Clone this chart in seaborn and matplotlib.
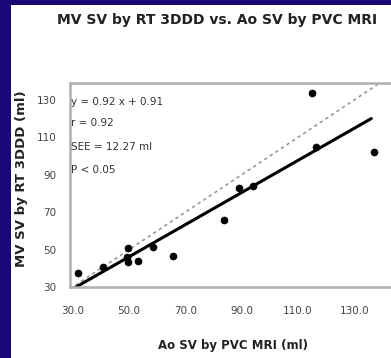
import matplotlib
matplotlib.use("Agg")
import matplotlib.pyplot as plt
from matplotlib.patches import Rectangle
import seaborn as sns
import pandas as pd

# Data
ao_sv = [31.8, 40.7, 49.6, 49.3, 49.6, 53.0, 58.6, 65.7, 83.6, 89.0, 94.0, 116.4, 115.0, 137.0]
mv_sv = [37.5, 40.7, 50.9, 46.0, 43.4, 44.0, 51.4, 46.6, 66.0, 83.0, 84.0, 105.0, 133.7, 102.0]
fit_x = [30.0, 136.0]
fit_y = [29.0, 120.0]
ident = [29.0, 145.0]
x_ticks = [30, 50, 70, 90, 110, 130]
x_tick_labels = ["30.0", "50.0", "70.0", "90.0", "110.0", "130.0"]
y_ticks = [30, 50, 70, 90, 110, 130]
y_tick_labels = ["30", "50", "70", "90", "110", "130"]
stats_lines = ["y = 0.92 x + 0.91", "r = 0.92", "SEE = 12.27 ml", "P < 0.05"]

title = "MV SV by RT 3DDD vs. Ao SV by PVC MRI"
xlabel = "Ao SV by PVC MRI (ml)"
ylabel = "MV SV by RT 3DDD (ml)"

sns.set_style("white")
plt.rcParams["font.family"] = ["DejaVu Sans"]

fig = plt.figure(figsize=(3.91, 3.58), dpi=100)
fig.patch.set_facecolor("white")
navy = "#1a0674"
fig.patches.append(Rectangle((0, 0), 11 / 391, 1, transform=fig.transFigure,
                             facecolor=navy, edgecolor="none", zorder=-1))
fig.patches.append(Rectangle((0, 1 - 5 / 358), 1, 5 / 358, transform=fig.transFigure,
                             facecolor=navy, edgecolor="none", zorder=-1))

ax = fig.add_axes([70 / 391, 1 - 287 / 358, 1 - 70 / 391, (287 - 83) / 358])

df = pd.DataFrame({"x": ao_sv, "y": mv_sv})
sns.lineplot(x=ident, y=ident, ax=ax, color="#999999", linestyle=(0, (2, 2)), linewidth=1.2)
sns.lineplot(x=fit_x, y=fit_y, ax=ax, color="black", linewidth=2.2)
sns.scatterplot(data=df, x="x", y="y", ax=ax, color="black", s=26, edgecolor="black", zorder=5)

ax.set_xlim(29, 143)
ax.set_ylim(30, 139)
ax.set_xticks(x_ticks)
ax.set_xticklabels(x_tick_labels)
ax.set_yticks(y_ticks)
ax.set_yticklabels(y_tick_labels)
ax.tick_params(axis="both", labelsize=7.5, colors="#444444", length=0, pad=10)
ax.tick_params(axis="x", pad=14)

for side in ["left", "bottom", "top"]:
    ax.spines[side].set_visible(True)
    ax.spines[side].set_color("#b0b0b0")
    ax.spines[side].set_linewidth(1.8)
ax.spines["right"].set_visible(False)

ax.set_xlabel("")
ax.set_ylabel("")

ys = [102, 123, 147, 170]
for line, py in zip(stats_lines, ys):
    fig.text(71 / 391, 1 - py / 358, line, fontsize=7.5, color="#333333", va="center", ha="left")

fig.text(217 / 391, 1 - 20 / 358, title, fontsize=10, fontweight="bold", color="#222222",
         ha="center", va="center")
fig.text(233 / 391, 1 - 345 / 358, xlabel, fontsize=8.5, fontweight="bold", color="#222222",
         ha="center", va="center")
fig.text(22 / 391, 1 - 179 / 358, ylabel, fontsize=9.5, fontweight="bold", color="#222222",
         ha="center", va="center", rotation=90)

fig.savefig("out.png", dpi=100)
